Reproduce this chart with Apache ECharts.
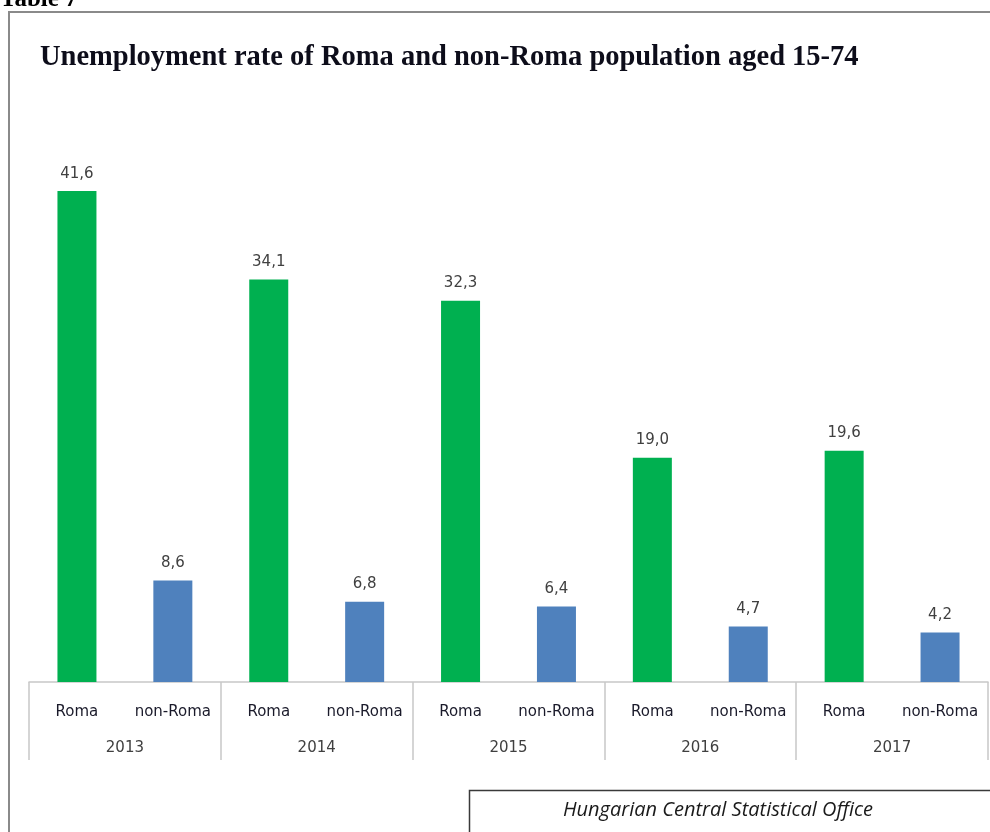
<!DOCTYPE html>
<html>
<head>
<meta charset="utf-8">
<script src="https://cdn.jsdelivr.net/npm/echarts@6/dist/echarts.min.js"></script>
<style>
  html, body { margin: 0; padding: 0; background: #ffffff; }
  #chart { width: 990px; height: 832px; }
</style>
</head>
<body>
<div id="chart"></div>
<script>
// Unemployment rate (%) of Roma and non-Roma population aged 15-74
const years = ['2013', '2014', '2015', '2016', '2017'];
const groups = ['Roma', 'non-Roma'];
const romaRates = [41.6, 34.1, 32.3, 19.0, 19.6];
const nonRomaRates = [8.6, 6.8, 6.4, 4.7, 4.2];

const groupColors = ['#00B050', '#4F81BD'];

// Inner category axis: Roma / non-Roma for every year
const innerCategories = [];
const barData = [];
years.forEach((y, i) => {
  [romaRates[i], nonRomaRates[i]].forEach((v, g) => {
    innerCategories.push(groups[g]);
    barData.push({ value: v, itemStyle: { color: groupColors[g] } });
  });
});

const labelFont = '"DejaVu Sans", Verdana, sans-serif';

const chart = echarts.init(document.getElementById('chart'), null, { renderer: 'canvas' });
chart.setOption({
  animation: false,
  backgroundColor: '#ffffff',
  graphic: [
    {
      type: 'text', left: 0, top: -13,
      style: { text: 'Table 7', font: 'bold 25px "Liberation Serif", "Times New Roman", serif', fill: '#000' }
    },
    {
      type: 'rect', shape: { x: 9, y: 12, width: 1000, height: 900 },
      style: { fill: 'none', stroke: '#8a8a8a', lineWidth: 2 }
    },
    {
      type: 'text', left: 40, top: 43,
      style: {
        text: 'Unemployment rate of Roma and non-Roma population aged 15-74',
        font: 'bold 28.5px "Liberation Serif", "Times New Roman", serif', fill: '#0d0d1a'
      }
    },
    {
      type: 'rect', shape: { x: 469.5, y: 790.5, width: 600, height: 100 },
      style: { fill: '#ffffff', stroke: '#3a3a3a', lineWidth: 1.5 }
    },
    {
      type: 'text', x: 718, y: 810,
      style: {
        text: 'Hungarian Central Statistical Office',
        font: 'italic 20px "Open Sans", Lato, sans-serif', fill: '#1a1a1a',
        align: 'center', verticalAlign: 'middle'
      }
    }
  ],
  grid: { left: 29, right: 2, top: 151, bottom: 150 },
  xAxis: [
    {
      type: 'category',
      data: innerCategories,
      position: 'bottom',
      axisLine: { show: false },
      axisTick: { show: false },
      axisLabel: { margin: 23, color: '#1a1a2a', fontSize: 15, fontFamily: labelFont, interval: 0 }
    },
    {
      type: 'category',
      data: years,
      position: 'bottom',
      axisLine: { show: true, lineStyle: { color: '#c8c8c8', width: 1.5 } },
      axisTick: { show: true, length: 78, lineStyle: { color: '#c8c8c8', width: 1.5 } },
      axisLabel: { margin: 59, color: '#404040', fontSize: 15, fontFamily: labelFont }
    }
  ],
  yAxis: {
    type: 'value', min: 0, max: 45, show: false,
    splitLine: { show: false }
  },
  series: [
    {
      type: 'bar',
      xAxisIndex: 0,
      data: barData,
      barWidth: 39,
      label: {
        show: true, position: 'top', distance: 10,
        color: '#404040', fontSize: 15, fontFamily: labelFont,
        formatter: p => p.value.toFixed(1).replace('.', ',')
      }
    }
  ]
});
</script>
</body>
</html>
